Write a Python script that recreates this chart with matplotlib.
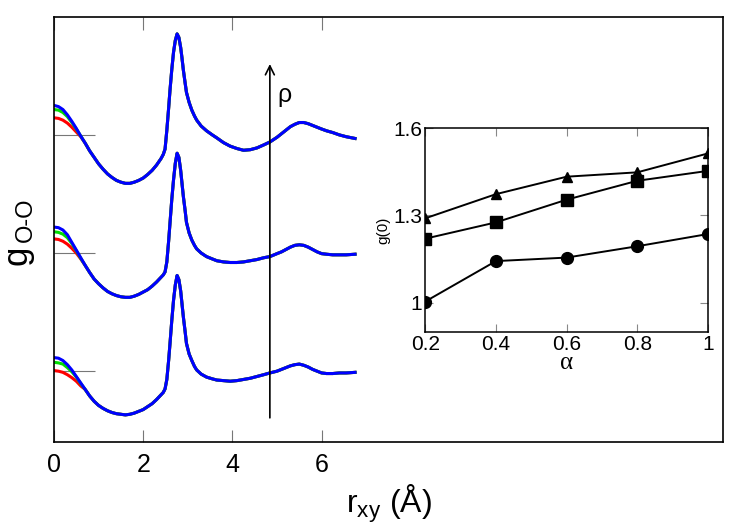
import matplotlib
matplotlib.use("Agg")
import matplotlib.pyplot as plt

plt.rcParams['font.family'] = ['Liberation Sans', 'DejaVu Sans']
plt.rcParams['mathtext.fontset'] = 'custom'
plt.rcParams['mathtext.rm'] = 'Liberation Sans'
plt.rcParams['mathtext.it'] = 'Liberation Sans:italic'

# g_OO(r_xy) for three densities (bottom -> top), alpha = 0.2 (red), 0.6 (green), 1.0 (blue)
r_head = [0.0, 0.1, 0.2, 0.3, 0.4, 0.5, 0.6]
r_tail = [0.7, 0.8, 0.9, 1.0, 1.1, 1.2, 1.3, 1.4, 1.5, 1.6,
          1.7, 1.8, 1.9, 2.0, 2.1, 2.2, 2.3, 2.4, 2.45, 2.49,
          2.53, 2.57, 2.6, 2.64, 2.68, 2.72, 2.76, 2.8, 2.84, 2.87,
          2.9, 2.94, 2.97, 3.03, 3.09, 3.15, 3.2, 3.3, 3.42, 3.55,
          3.65, 3.8, 3.95, 4.1, 4.25, 4.4, 4.55, 4.7, 4.84, 5.0,
          5.1, 5.2, 5.3, 5.4, 5.5, 5.6, 5.7, 5.8, 5.9, 6.0,
          6.11, 6.25, 6.4, 6.55, 6.75]

# lowest density
rho1_red = [1.01, 1.00, 0.98, 0.94, 0.89, 0.83, 0.75]
rho1_green = [1.15, 1.14, 1.12, 1.06, 0.99, 0.90, 0.79]
rho1_blue = [1.23, 1.22, 1.18, 1.11, 1.02, 0.91, 0.80]
rho1_tail = [0.69, 0.58, 0.49, 0.42, 0.37, 0.33, 0.30, 0.28, 0.27, 0.26,
             0.27, 0.29, 0.32, 0.35, 0.40, 0.45, 0.52, 0.60, 0.64, 0.70,
             0.86, 1.18, 1.46, 1.85, 2.20, 2.46, 2.62, 2.55, 2.36, 2.14,
             1.92, 1.67, 1.47, 1.29, 1.18, 1.08, 1.02, 0.95, 0.90, 0.87,
             0.85, 0.84, 0.83, 0.84, 0.86, 0.88, 0.91, 0.94, 0.97, 1.00,
             1.03, 1.06, 1.09, 1.11, 1.12, 1.10, 1.07, 1.03, 1.00, 0.97,
             0.96, 0.96, 0.97, 0.97, 0.98]

# middle density
rho2_red = [1.24, 1.23, 1.20, 1.15, 1.08, 1.00, 0.90]
rho2_green = [1.36, 1.35, 1.32, 1.26, 1.16, 1.04, 0.91]
rho2_blue = [1.44, 1.43, 1.39, 1.31, 1.18, 1.05, 0.92]
rho2_tail = [0.79, 0.67, 0.56, 0.48, 0.41, 0.35, 0.31, 0.28, 0.26, 0.25,
             0.25, 0.27, 0.30, 0.34, 0.38, 0.44, 0.51, 0.59, 0.63, 0.68,
             0.85, 1.20, 1.50, 1.90, 2.24, 2.52, 2.69, 2.62, 2.40, 2.18,
             1.96, 1.72, 1.52, 1.34, 1.22, 1.13, 1.07, 1.00, 0.94, 0.90,
             0.87, 0.85, 0.84, 0.84, 0.85, 0.87, 0.89, 0.92, 0.94, 0.99,
             1.02, 1.06, 1.10, 1.13, 1.14, 1.13, 1.10, 1.06, 1.02, 0.99,
             0.98, 0.97, 0.97, 0.97, 0.98]

# highest density
rho3_red = [1.29, 1.28, 1.25, 1.20, 1.13, 1.05, 0.97]
rho3_green = [1.43, 1.42, 1.38, 1.31, 1.21, 1.10, 0.98]
rho3_blue = [1.50, 1.48, 1.43, 1.34, 1.23, 1.11, 0.98]
rho3_tail = [0.86, 0.73, 0.62, 0.51, 0.42, 0.34, 0.28, 0.23, 0.20, 0.18,
             0.18, 0.20, 0.23, 0.27, 0.33, 0.40, 0.49, 0.60, 0.67, 0.76,
             1.08, 1.45, 1.75, 2.10, 2.40, 2.60, 2.71, 2.65, 2.48, 2.30,
             2.10, 1.88, 1.72, 1.55, 1.42, 1.32, 1.25, 1.15, 1.07, 1.00,
             0.95, 0.87, 0.81, 0.77, 0.74, 0.75, 0.78, 0.83, 0.88, 0.96,
             1.02, 1.08, 1.14, 1.18, 1.21, 1.21, 1.19, 1.16, 1.13, 1.10,
             1.07, 1.04, 1.00, 0.97, 0.94]

offsets = [0, 2, 4]

# inset: g(0) vs alpha
alpha = [0.2, 0.4, 0.6, 0.8, 1.0]
g0_tri = [1.29, 1.373, 1.433, 1.448, 1.513]
g0_sq = [1.22, 1.276, 1.354, 1.419, 1.453]
g0_circ = [1.004, 1.143, 1.155, 1.194, 1.236]

fig = plt.figure(figsize=(7.5, 5.25), dpi=100)
ax = fig.add_axes([0.072, 0.158, 0.892, 0.810])

r = r_head + r_tail
curves = [(rho1_red, rho1_green, rho1_blue, rho1_tail),
          (rho2_red, rho2_green, rho2_blue, rho2_tail),
          (rho3_red, rho3_green, rho3_blue, rho3_tail)]
for (red, green, blue, tail), off in zip(curves, offsets):
    for head, col in [(red, '#ff0000'), (green, '#00dd00'), (blue, '#0000ff')]:
        g = [v + off for v in head + tail]
        ax.plot(r, g, color=col, lw=2.2, solid_joinstyle='round')

ax.set_xlim(0, 15)
ax.set_ylim(-0.2, 7.0)
ax.set_xticks([0, 2, 4, 6])
ax.set_yticks([1, 3, 5])
ax.set_yticklabels([])
ax.tick_params(axis='x', direction='in', top=True, length=9, width=0.8,
               color='#777777', labelsize=18, pad=8)
ax.tick_params(axis='y', direction='in', length=29.5, width=0.8, color='#777777')
for s in ax.spines.values():
    s.set_linewidth(1.2)

ax.set_xlabel(r'r$_{\mathrm{xy}}$ (Å)', fontsize=23, labelpad=4)
# y label g_{O-O}, written as two pieces so the subscript size matches
fig.text(26.5 / 750, 1 - 265 / 525, 'g', fontsize=25, rotation=90,
         rotation_mode='anchor', ha='left', va='baseline')
fig.text(32 / 750, 1 - 242 / 525, 'O-O', fontsize=17, rotation=90,
         rotation_mode='anchor', ha='left', va='baseline')

ax.annotate('', xy=(4.84, 6.2), xytext=(4.84, 0.21),
            arrowprops=dict(arrowstyle='->', lw=1.2, color='k', mutation_scale=16,
                            shrinkA=0, shrinkB=0))
ax.text(5.0, 5.68, 'ρ', fontsize=18, ha='left', va='center')

# inset
ins = fig.add_axes([0.567, 0.368, 0.377, 0.388])
ins.plot(alpha, g0_tri, 'k-^', lw=1.4, ms=7)
ins.plot(alpha, g0_sq, 'k-s', lw=1.4, ms=8)
ins.plot(alpha, g0_circ, 'k-o', lw=1.4, ms=8.5)
ins.set_xlim(0.2, 1.0)
ins.set_ylim(0.9, 1.6)
ins.set_xticks([0.2, 0.4, 0.6, 0.8, 1.0])
ins.set_xticklabels(['0.2', '0.4', '0.6', '0.8', '1'])
ins.set_yticks([1.0, 1.3, 1.6])
ins.set_yticklabels(['1', '1.3', '1.6'])
ins.tick_params(direction='in', top=True, right=True, length=6, width=0.8,
                color='#888888', labelsize=15, pad=2)
for s in ins.spines.values():
    s.set_linewidth(1.1)
ins.set_xlabel('α', fontsize=18, family=['Liberation Serif', 'DejaVu Serif'], labelpad=-1)
ins.set_ylabel('g(0)', fontsize=11, labelpad=2)

fig.savefig('out.png', dpi=100)
